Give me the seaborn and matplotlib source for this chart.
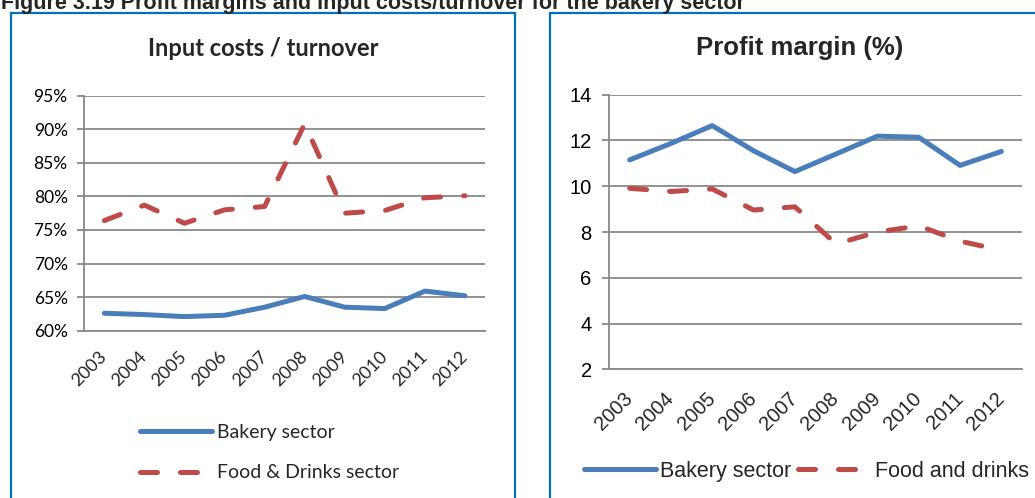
import matplotlib
matplotlib.use("Agg")
import matplotlib.pyplot as plt
import seaborn as sns
import pandas as pd
from matplotlib.patches import Rectangle
from matplotlib.ticker import FixedLocator, FuncFormatter

# ---------------- data ----------------
years = ["2003", "2004", "2005", "2006", "2007", "2008", "2009", "2010", "2011", "2012"]
input_bakery = [62.6, 62.4, 62.1, 62.3, 63.5, 65.1, 63.5, 63.3, 65.9, 65.2]
input_food = [76.4, 78.7, 76.0, 78.0, 78.5, 90.8, 77.5, 77.9, 79.8, 80.1]
profit_bakery = [11.15, 11.87, 12.65, 11.55, 10.64, 11.41, 12.19, 12.14, 10.91, 11.52]
profit_food = [9.91, 9.77, 9.88, 8.96, 9.10, 7.48, 8.00, 8.27, 7.60, 7.20]
left_series = ["Bakery sector", "Food & Drinks sector"]
right_series = ["Bakery sector", "Food and drinks"]
left_yticks = [60, 65, 70, 75, 80, 85, 90, 95]
right_yticks = [2, 4, 6, 8, 10, 12, 14]
left_title = "Input costs / turnover"
right_title = "Profit margin (%)"
caption = "Figure 3.19 Profit margins and input costs/turnover for the bakery sector"

BLUE = "#4A7EBB"
RED = "#BE4B48"
GRID = "#898989"
BOX = "#0070C0"

W, H = 1035, 498
sns.set_style("white")
fig = plt.figure(figsize=(W / 100, H / 100), dpi=100)


def ax_px(x0, x1, ytop, ybot):
    return fig.add_axes([x0 / W, 1 - ybot / H, (x1 - x0) / W, (ybot - ytop) / H])


def long_df(s1, v1, s2, v2):
    return pd.DataFrame({
        "year": years * 2,
        "value": list(v1) + list(v2),
        "series": [s1] * len(years) + [s2] * len(years),
    })


def style_axis(ax, yticks, fmt, font, ysize, xsize, xpad, ypad):
    ax.set_xlim(-0.5, len(years) - 0.5)
    ax.set_ylim(yticks[0], yticks[-1])
    ax.yaxis.set_major_locator(FixedLocator(yticks))
    ax.yaxis.set_major_formatter(FuncFormatter(fmt))
    ax.grid(axis="y", color=GRID, linewidth=1.3)
    ax.grid(axis="x", visible=False)
    ax.set_axisbelow(True)
    for s in ["top", "right"]:
        ax.spines[s].set_visible(False)
    for s in ["left", "bottom"]:
        ax.spines[s].set_color(GRID)
        ax.spines[s].set_linewidth(1.3)
    ax.set_xticks(range(len(years)))
    ax.set_xticklabels(years, rotation=45, ha="right", va="center",
                       rotation_mode="anchor", fontfamily=font, fontsize=xsize)
    ax.set_xticks([i - 0.5 for i in range(len(years) + 1)], minor=True)
    ax.tick_params(axis="x", which="major", length=0, pad=xpad)
    ax.tick_params(axis="x", which="minor", length=5, width=1.3, color=GRID, direction="out")
    ax.tick_params(axis="y", length=5, width=1.3, color=GRID, direction="out",
                   left=True, pad=ypad)
    for t in ax.get_yticklabels():
        t.set_fontfamily(font)
        t.set_fontsize(ysize)
        t.set_color("#000000")
    ax.set_xlabel("")
    ax.set_ylabel("")


def round_lines(ax):
    for ln in ax.get_lines():
        ln.set_dash_capstyle("round")
        ln.set_solid_capstyle("round")
        ln.set_solid_joinstyle("round")
        ln.set_dash_joinstyle("round")


LW = 3.6
DASH = (3.4, 4.6)

# ---------------- left chart ----------------
axl = ax_px(84.3, 485, 95.7, 330.7)
dfl = long_df(left_series[0], input_bakery, left_series[1], input_food)
sns.lineplot(data=dfl, x="year", y="value", hue="series", style="series",
             palette={left_series[0]: BLUE, left_series[1]: RED},
             dashes={left_series[0]: "", left_series[1]: DASH},
             linewidth=LW, ax=axl, legend=False, sort=False)
round_lines(axl)
style_axis(axl, left_yticks, lambda v, p: f"{v:.0f}%", "Lato", 12.5, 13, 17, 7)
fig.text(263 / W, 1 - 48 / H, left_title, fontfamily="Lato", fontweight="bold",
         fontsize=17, ha="center", va="center")

handles_l = axl.get_lines()[:2]
fig.legend(handles_l, left_series, loc="upper left",
           bbox_to_anchor=(140 / W, 1 - 424 / H), frameon=False,
           prop={"family": "Lato", "size": 14}, handlelength=3.7,
           handletextpad=0.26, labelspacing=1.2, borderpad=0, borderaxespad=0)

# ---------------- right chart ----------------
axr = ax_px(609, 1022, 94.7, 369.3)
dfr = long_df(right_series[0], profit_bakery, right_series[1], profit_food)
sns.lineplot(data=dfr, x="year", y="value", hue="series", style="series",
             palette={right_series[0]: BLUE, right_series[1]: RED},
             dashes={right_series[0]: "", right_series[1]: DASH},
             linewidth=LW, ax=axr, legend=False, sort=False)
round_lines(axr)
style_axis(axr, right_yticks, lambda v, p: f"{v:.0f}", "Liberation Sans", 14.5, 14.5, 19, 7.5)
fig.text(800 / W, 1 - 48 / H, right_title, fontfamily="Liberation Sans",
         fontweight="bold", fontsize=18.5, ha="center", va="center")

handles_r = axr.get_lines()[:2]
fig.legend(handles_r, right_series, loc="upper left",
           bbox_to_anchor=(584 / W, 1 - 461 / H), frameon=False, ncol=2,
           prop={"family": "Liberation Sans", "size": 15.5}, handlelength=3.35,
           handletextpad=0.2, columnspacing=0.3, borderpad=0, borderaxespad=0)

# ---------------- frames & caption ----------------
fig.patches.append(Rectangle((10.7 / W, -0.05), (515 - 10.7) / W, 1.05 - 13 / H,
                             transform=fig.transFigure, fill=False,
                             edgecolor=BOX, linewidth=1.6))
fig.patches.append(Rectangle((550 / W, -0.05), 0.6, 1.05 - 13 / H,
                             transform=fig.transFigure, fill=False,
                             edgecolor=BOX, linewidth=1.6))
fig.text(1 / W, 1 - 9 / H, caption, fontfamily="Liberation Sans", fontweight="bold",
         fontsize=15.5, va="baseline", ha="left")

fig.savefig("out.png", dpi=100)
